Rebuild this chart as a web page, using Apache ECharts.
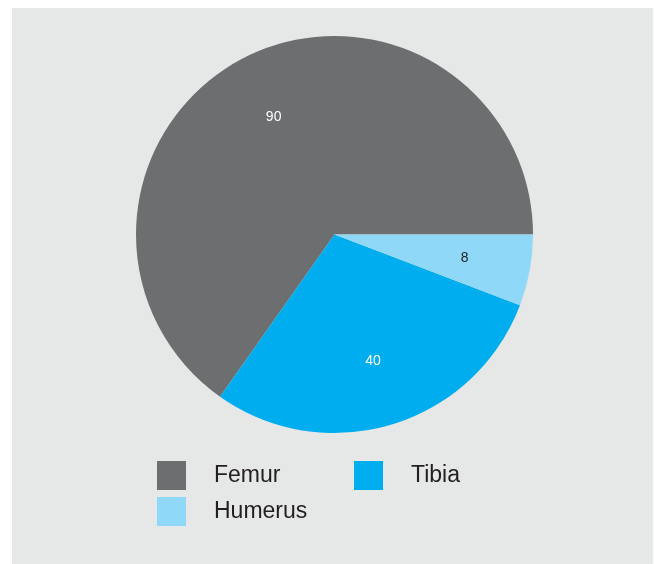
<!DOCTYPE html>
<html>
<head>
<meta charset="utf-8">
<script src="https://cdn.jsdelivr.net/npm/echarts@6/dist/echarts.min.js"></script>
<style>
html,body{margin:0;padding:0;background:#ffffff;}
#chart{width:654px;height:564px;}
</style>
</head>
<body>
<div id="chart"></div>
<script>
const categories = ['Femur', 'Tibia', 'Humerus'];
const values = [90, 40, 8];
const colors = ['#6d6e70', '#00aeef', '#8fd8f8'];
const labelColors = ['#ffffff', '#ffffff', '#231f20'];

const chart = echarts.init(document.getElementById('chart'), null, {renderer: 'canvas'});
const font = '"Liberation Sans", Arial, Helvetica, sans-serif';

const mainData = categories.map((c, i) => ({
  name: c, value: values[i], itemStyle: {color: colors[i]}
}));
const labelData = categories.map((c, i) => ({
  name: c, value: values[i],
  label: {color: labelColors[i]}
}));

const legendPos = [[157, 461], [354, 461], [157, 497]];
const legends = categories.map((c, i) => ({
  left: legendPos[i][0], top: legendPos[i][1], padding: 0,
  itemWidth: 29, itemHeight: 29, itemGap: 0,
  icon: 'rect', orient: 'horizontal',
  data: [c],
  textStyle: {
    fontFamily: font, fontSize: 23, color: '#231f20',
    padding: [0, 0, 0, 23]
  }
}));

chart.setOption({
  backgroundColor: '#ffffff',
  animation: false,
  graphic: [{
    type: 'rect', z: -10, silent: true,
    shape: {x: 12, y: 8, width: 641, height: 556},
    style: {fill: '#e6e7e7'}
  }],
  legend: legends,
  series: [
    {
      type: 'pie',
      center: [334.5, 234.5],
      radius: [0, 198.5],
      startAngle: 0,
      clockwise: false,
      label: {show: false},
      labelLine: {show: false},
      emphasis: {disabled: true},
      itemStyle: {borderWidth: 0},
      data: mainData
    },
    {
      type: 'pie',
      center: [334.5, 234.5],
      radius: [60, 198.5],
      startAngle: 0,
      clockwise: false,
      silent: true,
      legendHoverLink: false,
      itemStyle: {color: 'rgba(0,0,0,0)', borderWidth: 0},
      label: {
        show: true, position: 'inside',
        fontFamily: font, fontSize: 14,
        formatter: '{c}'
      },
      labelLine: {show: false},
      emphasis: {disabled: true},
      data: labelData
    }
  ]
});
</script>
</body>
</html>
